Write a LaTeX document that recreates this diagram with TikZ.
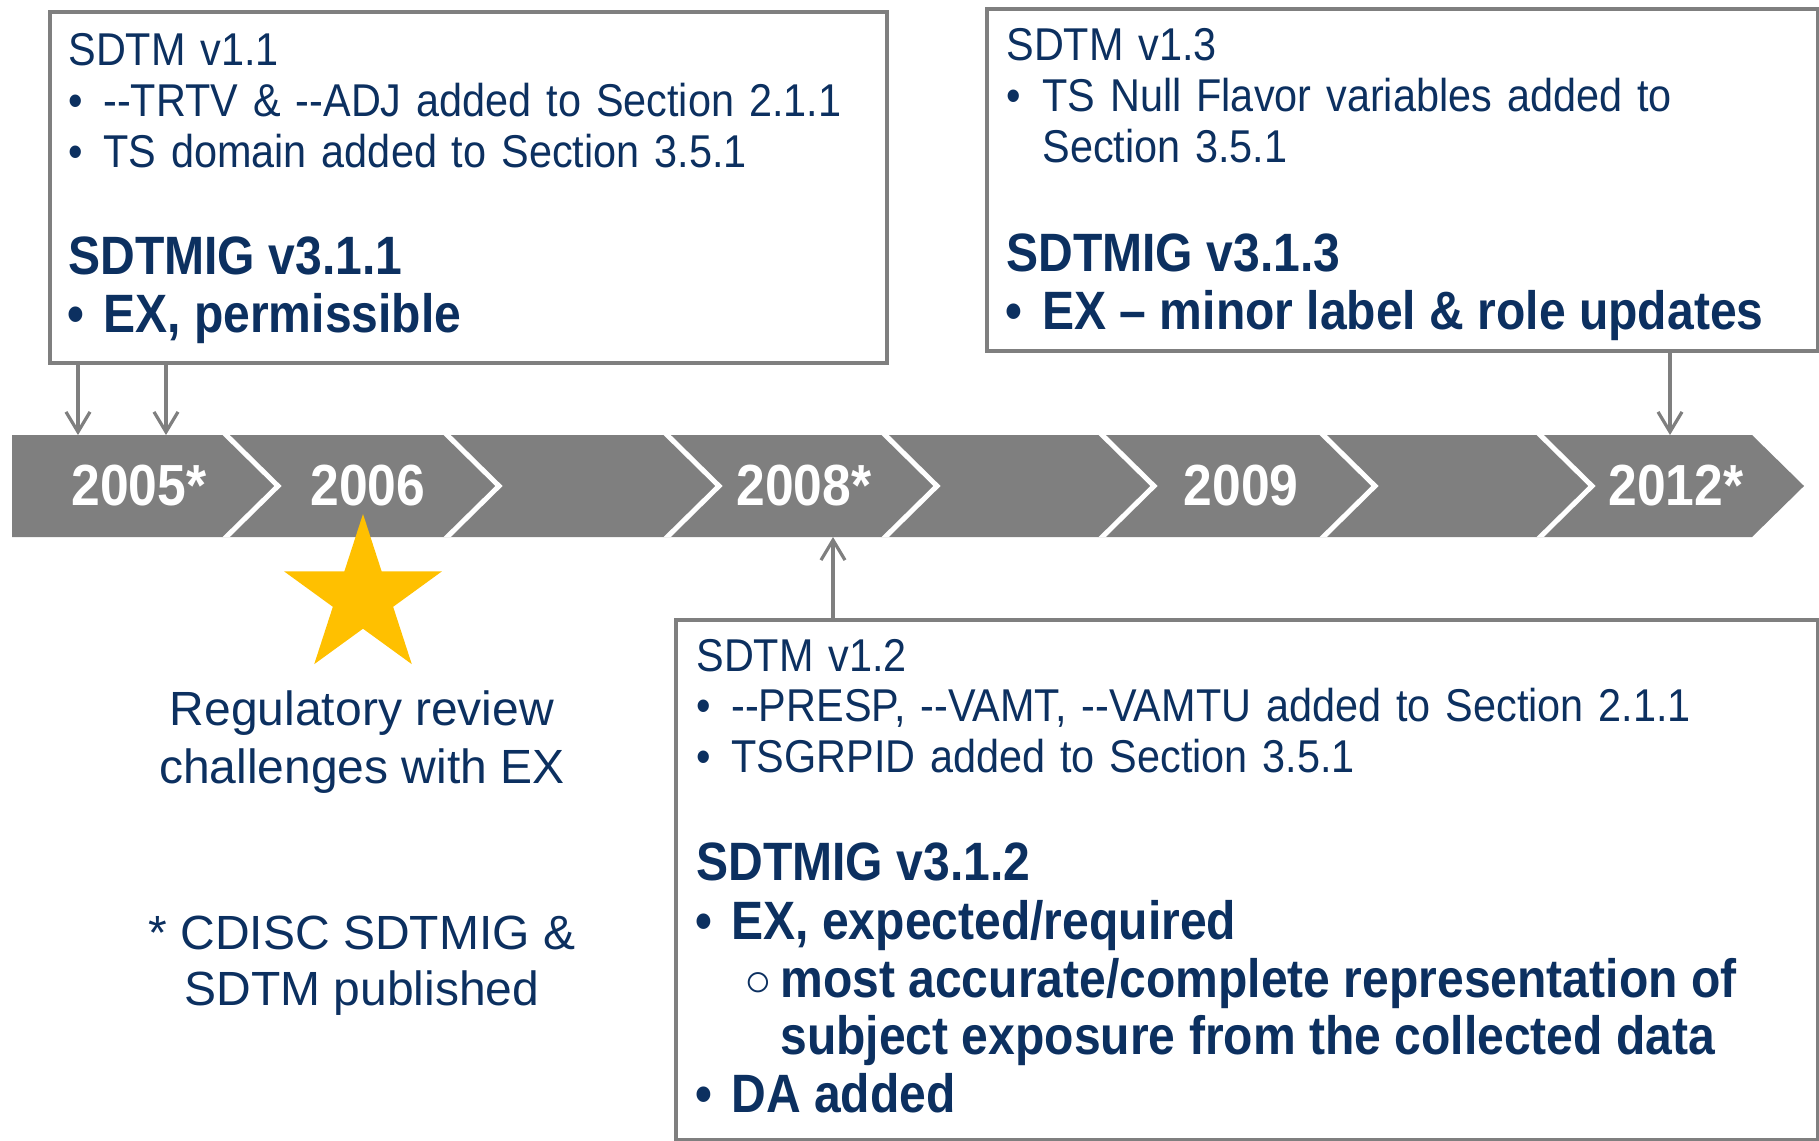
\documentclass[tikz,border=0pt]{standalone}
\usepackage{fontspec}
\setmainfont{Liberation Sans}
\newfontfamily\rfont[FakeStretch=0.9,WordSpace=1.3]{Liberation Sans}
\newfontfamily\bfont[FakeStretch=0.89]{Liberation Sans}
\usetikzlibrary{arrows.meta,shapes.geometric}
\definecolor{navy}{HTML}{0C3060}
\definecolor{bandgrey}{HTML}{7F7F7F}
\definecolor{gold}{HTML}{FFC000}
\newcommand\dd{-\kern0pt-}
\begin{document}
\begin{tikzpicture}[x=0.5pt,y=-0.5pt,
  box/.style={draw=bandgrey, line width=2pt, fill=white, inner sep=0pt, anchor=north west},
  reg/.style={anchor=base west, inner sep=0pt, text=navy, font=\rfont\fontsize{23pt}{27pt}\selectfont},
  bld/.style={anchor=base west, inner sep=0pt, text=navy, font=\bfont\bfseries\fontsize{27pt}{32pt}\selectfont},
  yr/.style={anchor=base, inner sep=0pt, text=white, font=\bfont\bfseries\fontsize{29pt}{34pt}\selectfont},
  note/.style={anchor=base, inner sep=0pt, text=navy, font=\fontsize{24pt}{29pt}\selectfont},
  arr/.style={draw=bandgrey, line width=1.6pt, -{Straight Barb[length=10pt,width=12pt]}}
]
\useasboundingbox (0,0) rectangle (1819,1140);

% timeline band
\fill[bandgrey] (12,435) -- (1752,435) -- (1804,486) -- (1752,537) -- (12,537) -- cycle;
\begin{scope}
  \clip (12,435) -- (1752,435) -- (1804,486) -- (1752,537) -- (12,537) -- cycle;
  \foreach \t in {278,499,719,937,1154,1375,1592}{
    \draw[white, line width=2.5pt] (\t-62,425) -- (\t,486) -- (\t-62,547);
  }
\end{scope}
\coordinate (t1) at (78,435);
\coordinate (t2) at (166,435);
\coordinate (t3) at (1670,435);
\coordinate (b1) at (833,537);

\node[yr] (y2005) at (139,505) {2005*};
\node[yr] (y2006) at (368,505) {2006};
\node[yr] (y2008) at (804,505) {2008*};
\node[yr] (y2009) at (1241,505) {2009};
\node[yr] (y2012) at (1676,505) {2012*};

% star
\node[star, star points=5, star point ratio=2.618, minimum size=83pt, inner sep=0pt, fill=gold, draw=none] (star) at (363,597) {};

% boxes
\node[box, minimum width=418.5pt, minimum height=175.5pt] (boxA) at (48,10) {};
\node[box, minimum width=415.5pt, minimum height=171pt] (boxC) at (985,7) {};
\node[box, minimum width=571pt, minimum height=260pt] (boxB) at (674,618) {};

% arrows
\draw[arr] (boxA.south -| t1) -- (t1);
\draw[arr] (boxA.south -| t2) -- (t2);
\draw[arr] (boxC.south -| t3) -- (t3);
\draw[arr] (boxB.north -| b1) -- (b1);

% box A text
\node[reg] (a0) at (68,65.5) {SDTM v1.1};
\node[reg] (a1b) at (68,116.5) {•};
\node[reg] (a1) at (103,116.5) {\dd TRTV \& \dd ADJ added to Section 2.1.1};
\node[reg] (a2b) at (68,167.5) {•};
\node[reg] (a2) at (103,167.5) {TS domain added to Section 3.5.1};
\node[bld] (a3) at (68,274.5) {SDTMIG v3.1.1};
\node[bld] (a4b) at (67,332.5) {•};
\node[bld] (a4) at (103,332.5) {EX, permissible};

% box C text
\node[reg] (c0) at (1006,60.5) {SDTM v1.3};
\node[reg] (c1b) at (1006,111.5) {•};
\node[reg] (c1) at (1042,111.5) {TS Null Flavor variables added to};
\node[reg] (c2) at (1042,162.5) {Section 3.5.1};
\node[bld] (c3) at (1006,271.5) {SDTMIG v3.1.3};
\node[bld] (c4b) at (1005,329.5) {•};
\node[bld] (c4) at (1042,329.5) {EX – minor label \& role updates};

% box B text
\node[reg] (d0) at (696,671.5) {SDTM v1.2};
\node[reg] (d1b) at (696,721.5) {•};
\node[reg] (d1) at (731,721.5) {\dd PRESP, \dd VAMT, \dd VAMTU added to Section 2.1.1};
\node[reg] (d2b) at (696,772.5) {•};
\node[reg] (d2) at (731,772.5) {TSGRPID added to Section 3.5.1};
\node[bld] (d3) at (696,880.5) {SDTMIG v3.1.2};
\node[bld] (d4b) at (695,939.5) {•};
\node[bld] (d4) at (731,939.5) {EX, expected/required};
\node[anchor=base west, inner sep=0pt, text=navy, font=\fontsize{23pt}{25pt}\selectfont] (d5b) at (744,996.5) {○};
\node[bld] (d5) at (780,997.5) {most accurate/complete representation of};
\node[bld] (d6) at (780,1054.5) {subject exposure from the collected data};
\node[bld] (d7b) at (695,1112.5) {•};
\node[bld] (d7) at (731,1112.5) {DA added};

% notes
\node[note] (n1) at (362,725) {Regulatory review};
\node[note] (n2) at (362,783) {challenges with EX};
\node[note] (n3) at (362,949) {* CDISC SDTMIG \&};
\node[note] (n4) at (362,1005) {SDTM published};
\end{tikzpicture}
\end{document}
